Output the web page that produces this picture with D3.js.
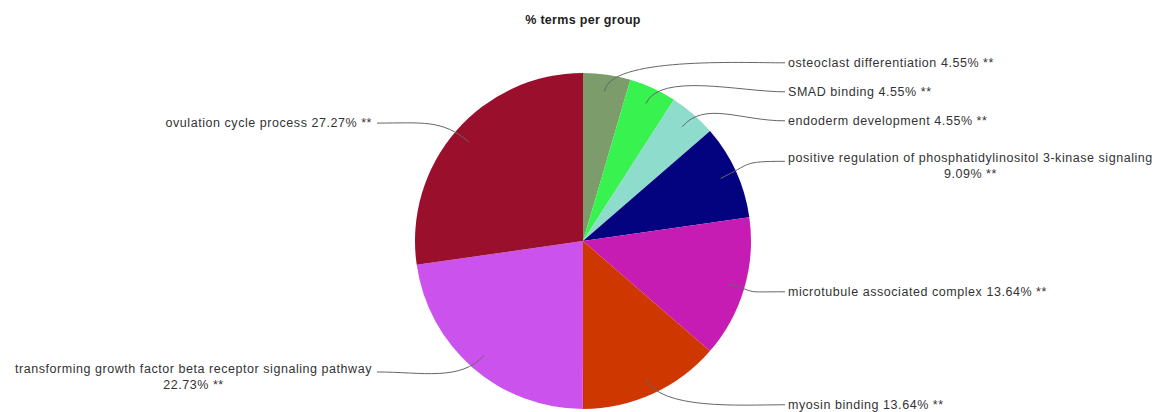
<!DOCTYPE html>
<html>
<head>
<meta charset="utf-8">
<script src="https://cdn.jsdelivr.net/npm/d3@7"></script>
<style>
  body { margin: 0; background: #fff; }
  text { font-family: "Liberation Sans", Arial, sans-serif; }
</style>
</head>
<body>
<div id="chart"></div>
<script>
// data, clockwise from 12 o'clock
const terms = [
  "osteoclast differentiation",
  "SMAD binding",
  "endoderm development",
  "positive regulation of phosphatidylinositol 3-kinase signaling",
  "microtubule associated complex",
  "myosin binding",
  "transforming growth factor beta receptor signaling pathway",
  "ovulation cycle process"
];
const percents = [4.55, 4.55, 4.55, 9.09, 13.64, 13.64, 22.73, 27.27];
const marks = ["**", "**", "**", "**", "**", "**", "**", "**"];
const colors = ["#7c9c6c", "#38f250", "#8edccb", "#03037f", "#c61cb4", "#cf3700", "#cb52ec", "#9a0f2b"];

const width = 1167, height = 412;
const cx = 583, cy = 241, R = 168;
const labelR = 180, maxLabelW = 382;
const fontSize = "12.5px", spacing = "0.55px";

const svg = d3.select("#chart").append("svg")
    .attr("width", width)
    .attr("height", height);

svg.append("text")
    .attr("x", cx)
    .attr("y", 24)
    .attr("text-anchor", "middle")
    .attr("font-size", "12.5px")
    .attr("letter-spacing", "0.3px")
    .attr("font-weight", "bold")
    .attr("fill", "#222")
    .text("% terms per group");

const data = terms.map((t, i) => ({term: t, pct: percents[i], mark: marks[i], color: colors[i]}));

const pie = d3.pie().sort(null).value(d => d.pct);
const arcs = pie(data);
const arc = d3.arc().innerRadius(0).outerRadius(R);

const g = svg.append("g").attr("transform", `translate(${cx},${cy})`);

g.selectAll("path.slice")
  .data(arcs)
  .enter()
  .append("path")
    .attr("class", "slice")
    .attr("d", arc)
    .attr("fill", d => d.data.color);

// label placement
let labels = arcs.map(a => {
  const mid = (a.startAngle + a.endAngle) / 2;
  return {a: a, mid: mid, right: Math.sin(mid) >= 0, y: -Math.cos(mid) * labelR};
});

// push overlapping right-side labels down
const rightSide = labels.filter(l => l.right).sort((p, q) => p.y - q.y);
for (let i = 1; i < rightSide.length; i++) {
  if (rightSide[i].y < rightSide[i - 1].y + 29) rightSide[i].y = rightSide[i - 1].y + 29;
}

const rightX = 205, leftX = -(R + 43);

const measure = s => {
  const p = g.append("text").attr("font-size", fontSize).attr("letter-spacing", spacing).text(s);
  const w = p.node().getComputedTextLength();
  p.remove();
  return w;
};

const lg = g.append("g");
labels.forEach(l => {
  const lx = l.right ? rightX : leftX;
  const txt = lg.append("text")
      .attr("font-size", fontSize)
      .attr("letter-spacing", spacing)
      .attr("fill", "#333");
  // wrap words into lines
  const words = (l.a.data.term + " " + l.a.data.pct.toFixed(2) + "% " + l.a.data.mark).split(" ");
  let lines = [], cur = "";
  words.forEach(w => {
    const test = cur ? cur + " " + w : w;
    if (measure(test) > maxLabelW && cur) {
      lines.push(cur);
      cur = w;
    } else cur = test;
  });
  lines.push(cur);

  const lh = 16;
  const blockW = d3.max(lines, measure);
  const blockX = l.right ? lx + blockW / 2 : lx - blockW / 2;
  const y0 = l.y - (lines.length - 1) * lh / 2 + 4;
  lines.forEach((s, i) => {
    txt.append("tspan")
      .attr("x", lines.length > 1 ? blockX : lx)
      .attr("y", y0 + i * lh)
      .text(s);
  });
  txt.attr("text-anchor", lines.length > 1 ? "middle" : (l.right ? "start" : "end"));

  // leader line
  const ax = Math.sin(l.mid) * (R * 0.9), ay = -Math.cos(l.mid) * (R * 0.9);
  const ox = Math.sin(l.mid) * (R + 18), oy = -Math.cos(l.mid) * (R + 18);
  const ex = l.right ? lx - 3 : lx + 5;
  const c2x = l.right ? ex - 45 : ex + 45;
  const ly = l.y + (lines.length > 1 ? -lh / 2 + 3 : 0);
  const path = d3.path();
  path.moveTo(ax, ay);
  path.bezierCurveTo(ox, oy, c2x, ly, ex, ly);
  lg.append("path")
    .attr("d", path.toString())
    .attr("fill", "none")
    .attr("stroke", "#666")
    .attr("stroke-width", 1);
});
</script>
</body>
</html>
